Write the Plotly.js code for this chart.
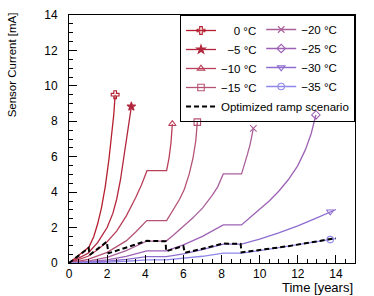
<!DOCTYPE html>
<html>
<head>
<meta charset="utf-8">
<script src="https://cdn.plot.ly/plotly-3.0.1.min.js"></script>
<style>html,body{margin:0;padding:0;background:#fff;}#chart{width:374px;height:296px;}</style>
</head>
<body>
<div id="chart"></div>
<script>
// Legend labels
const tempLabels = ['0 °C', '\u22125 °C', '\u221210 °C', '\u221215 °C', '\u221220 °C', '\u221225 °C', '\u221230 °C', '\u221235 °C'];
const rampLabel = 'Optimized ramp scenario';

// Sensor current [mA] vs time [years] for each temperature
const t0x  = [0, 1.05, 1.3, 1.5, 1.7, 1.9, 2.1, 2.25, 2.35, 2.42];
const t0y  = [0, 0.9, 1.5, 2.2, 3.1, 4.3, 5.9, 7.3, 8.4, 9.5];
const t5x  = [0, 1.0, 1.5, 2.0, 2.3, 2.5, 2.7, 2.9, 3.05, 3.17, 3.27];
const t5y  = [0, 0.55, 1.15, 2.0, 2.8, 3.6, 4.7, 6.1, 7.3, 8.2, 8.83];
const t10x = [0, 1.0, 1.5, 2.0, 2.5, 3.0, 3.5, 3.8, 4.09, 5.12, 5.25, 5.35, 5.42];
const t10y = [0, 0.38, 0.75, 1.2, 1.8, 2.65, 3.7, 4.4, 5.21, 5.21, 5.95, 6.8, 7.85];
const t15x = [0, 1.0, 2.0, 3.0, 3.5, 4.08, 5.12, 5.47, 5.8, 6.05, 6.3, 6.5, 6.65, 6.73];
const t15y = [0, 0.2, 0.6, 1.25, 1.75, 2.39, 2.39, 2.99, 3.6, 4.16, 5.0, 5.9, 6.9, 7.95];
const t20x = [0, 1, 2, 3, 4.08, 5.1, 5.5, 6.0, 6.5, 7.0, 7.5, 7.8, 8.09, 9.05, 9.2, 9.35, 9.5, 9.67];
const t20y = [0, 0.1, 0.32, 0.7, 1.24, 1.24, 1.6, 2.05, 2.55, 3.1, 3.8, 4.3, 5.03, 5.03, 5.5, 6.1, 6.7, 7.6];
const t25x = [0, 1, 2, 3, 4.08, 5.1, 6.0, 7.0, 8.09, 9.05, 9.8, 10.5, 11.0, 11.5, 12.0, 12.4, 12.7, 12.95];
const t25y = [0, 0.06, 0.18, 0.38, 0.68, 0.68, 1.02, 1.5, 2.15, 2.15, 2.85, 3.5, 4.05, 4.7, 5.5, 6.4, 7.3, 8.36];
const t30x = [0, 1, 2, 3, 4.08, 5.1, 6.0, 7.0, 8.09, 9.05, 10, 11, 12, 13, 14];
const t30y = [0, 0.03, 0.1, 0.2, 0.36, 0.36, 0.52, 0.76, 1.07, 1.07, 1.35, 1.7, 2.1, 2.55, 3.02];
const t35x = [0, 1, 2, 3, 4.08, 5.1, 6, 7, 8.09, 9.05, 10, 11, 12, 13, 14];
const t35y = [0, 0.015, 0.05, 0.1, 0.18, 0.18, 0.26, 0.38, 0.56, 0.56, 0.7, 0.86, 1.02, 1.2, 1.38];

// End-point markers of each temperature curve
const endX = [2.42, 3.27, 5.42, 6.73, 9.67, 12.95, 13.7, 13.7];
const endY = [9.5, 8.83, 7.85, 7.95, 7.6, 8.36, 2.9, 1.32];

// Optimized ramp scenario
const optX = [0, 1.03, 1.08, 1.98, 2.07, 3.0, 4.08, 5.07, 5.09, 6.0, 6.07, 7.0, 8.09, 9.0, 9.05, 11.5, 14.0];
const optY = [0, 0.85, 0.45, 1.2, 0.55, 0.86, 1.25, 1.23, 0.66, 0.96, 0.58, 0.8, 1.1, 1.08, 0.6, 0.95, 1.4];

const curvesX = [t0x, t5x, t10x, t15x, t20x, t25x, t30x, t35x];
const curvesY = [t0y, t5y, t10y, t15y, t20y, t25y, t30y, t35y];

const colors = ['#b41e2e', '#b3253d', '#b9405a', '#b55275', '#ab5f9a', '#9d62b5', '#8e6dd0', '#8f88ea'];
const symbols = ['cross-open', 'star', 'triangle-up-open', 'square-open', 'x-thin-open', 'diamond-open', 'triangle-down-open', 'circle-open'];
const padLead = ['\u00a0\u00a0\u00a0\u00a0', '\u00a0\u00a0', '', '', '', '', '', ''];

const traces = [];
for (let i = 0; i < 8; i++) {
  traces.push({
    x: curvesX[i], y: curvesY[i], type: 'scatter', mode: 'lines',
    line: {color: colors[i], width: 1.3}, showlegend: false, hoverinfo: 'skip',
    legendgroup: 'g' + i
  });
}
for (let i = 0; i < 8; i++) {
  traces.push({
    x: [endX[i]], y: [endY[i]], type: 'scatter', mode: 'lines+markers',
    name: padLead[i] + tempLabels[i],
    legend: i < 4 ? 'legend' : 'legend2',
    legendgroup: 'g' + i,
    line: {color: colors[i], width: 1.3},
    marker: {symbol: symbols[i], size: 6.5, color: colors[i], line: {color: colors[i], width: 1.1}}
  });
}
traces.push({
  x: optX, y: optY, type: 'scatter', mode: 'lines', name: rampLabel,
  legend: 'legend',
  line: {color: '#000000', width: 2, dash: '5px,3px'}
});

const layout = {
  width: 374, height: 296,
  margin: {l: 69, r: 19, t: 15, b: 33, autoexpand: false},
  paper_bgcolor: '#ffffff', plot_bgcolor: '#ffffff',
  font: {family: 'Liberation Sans, Arial, sans-serif', color: '#000000'},
  xaxis: {
    range: [0, 15], dtick: 2, tick0: 0, ticks: 'inside', ticklen: 8, tickcolor: '#000',
    showline: true, mirror: true, linecolor: '#000', linewidth: 1,
    showgrid: false, zeroline: false, tickfont: {size: 12}, ticklabelstandoff: 0,
    minor: {dtick: 0.5, ticks: 'inside', ticklen: 4, tickcolor: '#000', showgrid: false}
  },
  yaxis: {
    range: [0, 14], dtick: 2, tick0: 0, ticks: 'inside', ticklen: 8, tickcolor: '#000',
    showline: true, mirror: true, linecolor: '#000', linewidth: 1,
    showgrid: false, zeroline: false, tickfont: {size: 12}, ticklabelstandoff: 8,
    minor: {dtick: 0.5, ticks: 'inside', ticklen: 4, tickcolor: '#000', showgrid: false}
  },
  legend: {
    x: 1, xanchor: 'right', y: 1, yanchor: 'top',
    bgcolor: 'rgba(255,255,255,0)', bordercolor: '#000000', borderwidth: 1,
    font: {size: 11.5}, traceorder: 'normal', tracegroupgap: 0
  },
  legend2: {
    x: 0.672, xanchor: 'left', y: 1, yanchor: 'top',
    bgcolor: 'rgba(0,0,0,0)', borderwidth: 0,
    font: {size: 11.5}, traceorder: 'normal', tracegroupgap: 0
  },
  annotations: [
    {text: 'Time [years]', xref: 'paper', yref: 'paper', x: 1, y: -0.097, xanchor: 'right', yanchor: 'middle',
     showarrow: false, font: {size: 13}},
    {text: 'Sensor Current [mA]', xref: 'paper', yref: 'paper', x: -0.2, y: 1.02, xanchor: 'center', yanchor: 'top',
     textangle: -90, showarrow: false, font: {size: 11.5}}
  ]
};

Plotly.newPlot('chart', traces, layout, {displayModeBar: false, staticPlot: true});
</script>
</body>
</html>
